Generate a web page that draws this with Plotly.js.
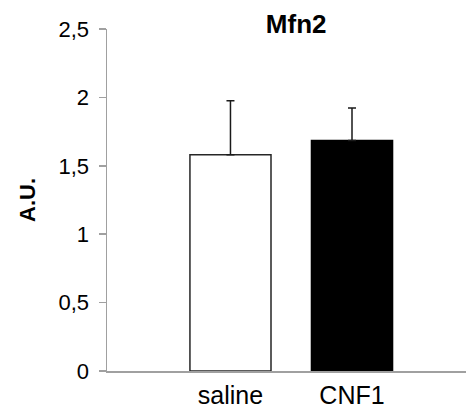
<!DOCTYPE html>
<html>
<head>
<meta charset="utf-8">
<script src="https://cdn.plot.ly/plotly-3.0.1.min.js"></script>
<style>html,body{margin:0;padding:0;background:#fff;}#chart{width:466px;height:410px;}</style>
</head>
<body>
<div id="chart"></div>
<script>
const categories = ["saline", "CNF1"];
const values = [1.58, 1.685];
const errorsPlus = [0.395, 0.237];
const errorsMinus = [0, 0];
const barColors = ["#ffffff", "#000000"];
const barLineColors = ["#262626", "#000000"];
const yTickVals = [0, 0.5, 1, 1.5, 2, 2.5];
const yTickText = ["0", "0,5", "1", "1,5", "2", "2,5"];
const chartTitle = "Mfn2";
const yTitle = "A.U.";

const font = "Liberation Sans, Arial, sans-serif";

const trace = {
  type: "bar",
  x: categories,
  y: values,
  width: 0.667,
  marker: { color: barColors, line: { color: barLineColors, width: 1.5 } },
  error_y: {
    type: "data",
    symmetric: false,
    array: errorsPlus,
    arrayminus: errorsMinus,
    color: "#1a1a1a",
    thickness: 1.5,
    width: 4
  },
  hoverinfo: "none"
};

const layout = {
  width: 466,
  height: 410,
  margin: { l: 107, r: 0, t: 29, b: 39, pad: 0 },
  paper_bgcolor: "#ffffff",
  plot_bgcolor: "#ffffff",
  showlegend: false,
  font: { family: font, color: "#000000" },
  title: {
    text: "<b>" + chartTitle + "</b>",
    font: { family: font, size: 26, color: "#000000" },
    xref: "paper", x: 0.527, xanchor: "center",
    yref: "container", y: 1 - 24 / 410, yanchor: "middle"
  },
  xaxis: {
    type: "category",
    range: [-1.016, 1.938],
    showline: true,
    linecolor: "#a0a0a0",
    linewidth: 1.5,
    ticks: "",
    ticklabelstandoff: 1,
    showgrid: false,
    zeroline: false,
    tickfont: { family: font, size: 25, color: "#000000" },
    fixedrange: true
  },
  yaxis: {
    range: [0, 2.5],
    tickvals: yTickVals,
    ticktext: yTickText,
    showline: true,
    linecolor: "#a0a0a0",
    linewidth: 1.5,
    ticks: "outside",
    ticklen: 7,
    tickwidth: 1.5,
    tickcolor: "#a0a0a0",
    ticklabelstandoff: 5,
    showgrid: false,
    zeroline: false,
    tickfont: { family: font, size: 22, color: "#000000" },
    title: { text: "<b>" + yTitle + "</b>", font: { family: font, size: 22, color: "#000000" }, standoff: 17 },
    fixedrange: true
  }
};

Plotly.newPlot("chart", [trace], layout, { displayModeBar: false, staticPlot: true });
</script>
</body>
</html>
